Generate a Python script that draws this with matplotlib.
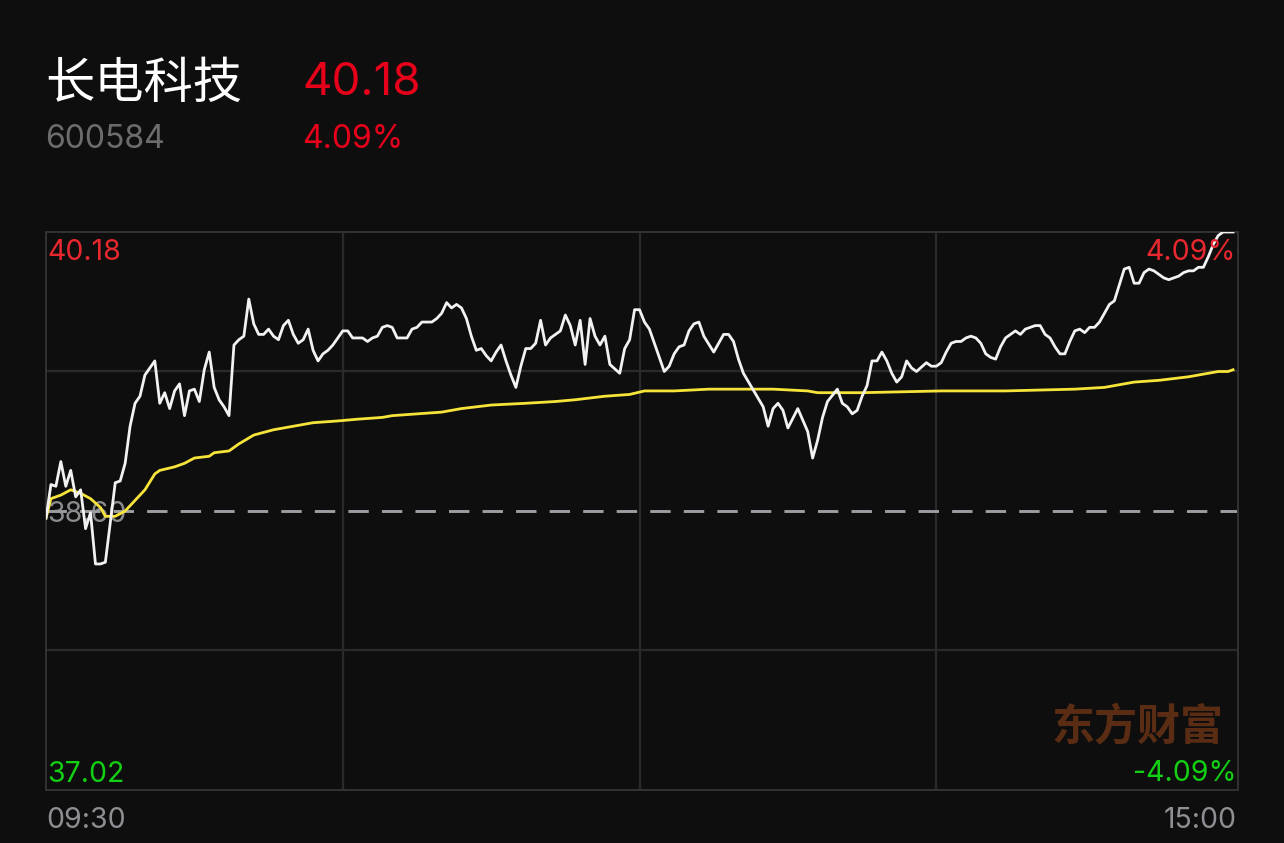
import numpy as np
import matplotlib
matplotlib.use("Agg")
import matplotlib.pyplot as plt

plt.rcParams['font.family'] = ['Inter', 'Liberation Sans', 'Noto Sans CJK SC', 'DejaVu Sans']

# stock info
name = "长电科技"
code = "600584"
last_price = 40.18
pre_close = 38.60
change_pct = 4.09
y_high = 40.18
y_low = 37.02
time_labels = ["09:30", "15:00"]

# minute price (minute index from 09:30, price)
price_min = [0, 1, 2, 3, 4, 5, 6, 7, 8, 9, 10, 11, 12, 14, 15, 16, 17, 18, 19, 20,
             22, 23, 24, 25, 26, 27, 28, 29, 30, 31, 32, 33, 34, 35, 36, 37, 38, 39, 40, 41,
             42, 43, 44, 45, 46, 47, 48, 49, 50, 51, 52, 53, 54, 55, 56, 57, 58, 59, 60, 61,
             62, 64, 65, 66, 67, 68, 69, 70, 71, 73, 74, 75, 76, 78, 79, 80, 81, 82, 83, 84,
             85, 86, 87, 88, 89, 90, 91, 92, 93, 94, 95, 96, 97, 98, 99, 100, 101, 102, 104, 105,
             106, 107, 108, 109, 110, 111, 112, 113, 114, 116, 117, 118, 119, 120, 121, 122, 125, 126, 127, 128,
             129, 130, 131, 132, 133, 135, 137, 138, 139, 140, 141, 145, 146, 147, 148, 149, 150, 152, 154, 155,
             156, 157, 158, 160, 161, 162, 163, 164, 165, 166, 167, 168, 169, 170, 171, 172, 173, 174, 175, 176,
             178, 179, 180, 181, 182, 183, 184, 185, 186, 187, 188, 189, 190, 191, 192, 193, 194, 196, 197, 198,
             199, 200, 201, 202, 203, 204, 205, 206, 207, 208, 209, 210, 211, 212, 213, 214, 215, 216, 217, 218,
             219, 220, 221, 222, 223, 224, 225, 226, 227, 228, 229, 230, 231, 232, 233, 234, 235, 236, 237, 238,
             240]
price_val = [38.56, 38.75, 38.74, 38.88, 38.74, 38.83, 38.68, 38.72, 38.50, 38.59, 38.30, 38.30, 38.31, 38.76, 38.77, 38.87, 39.08, 39.21, 39.25, 39.37,
             39.45, 39.21, 39.27, 39.18, 39.28, 39.32, 39.14, 39.28, 39.29, 39.22, 39.40, 39.50, 39.30, 39.23, 39.19, 39.14, 39.54, 39.57, 39.59, 39.80,
             39.66, 39.60, 39.60, 39.63, 39.59, 39.57, 39.65, 39.68, 39.60, 39.55, 39.57, 39.63, 39.51, 39.45, 39.49, 39.51, 39.54, 39.58, 39.62, 39.62,
             39.58, 39.58, 39.56, 39.58, 39.59, 39.64, 39.65, 39.64, 39.58, 39.58, 39.63, 39.64, 39.67, 39.67, 39.69, 39.72, 39.78, 39.75, 39.77, 39.75,
             39.69, 39.59, 39.51, 39.52, 39.48, 39.45, 39.50, 39.54, 39.45, 39.37, 39.30, 39.42, 39.52, 39.52, 39.55, 39.68, 39.54, 39.58, 39.62, 39.71,
             39.65, 39.54, 39.68, 39.43, 39.69, 39.59, 39.54, 39.59, 39.43, 39.38, 39.52, 39.57, 39.74, 39.74, 39.67, 39.63, 39.39, 39.42, 39.49, 39.53,
             39.54, 39.62, 39.66, 39.67, 39.59, 39.50, 39.60, 39.60, 39.56, 39.46, 39.38, 39.19, 39.08, 39.18, 39.21, 39.17, 39.07, 39.18, 39.05, 38.90,
             39.00, 39.13, 39.22, 39.29, 39.21, 39.19, 39.15, 39.17, 39.25, 39.31, 39.45, 39.45, 39.50, 39.45, 39.38, 39.33, 39.36, 39.45, 39.41, 39.39,
             39.44, 39.42, 39.42, 39.44, 39.50, 39.55, 39.56, 39.56, 39.58, 39.59, 39.58, 39.55, 39.49, 39.47, 39.46, 39.53, 39.58, 39.62, 39.60, 39.63,
             39.64, 39.65, 39.65, 39.60, 39.58, 39.53, 39.49, 39.49, 39.56, 39.62, 39.63, 39.61, 39.64, 39.64, 39.67, 39.72, 39.77, 39.79, 39.88, 39.97,
             39.98, 39.89, 39.89, 39.95, 39.97, 39.96, 39.94, 39.92, 39.91, 39.92, 39.93, 39.95, 39.96, 39.96, 39.98, 39.98, 40.04, 40.11, 40.16, 40.18,
             40.18]

# average price line
avg_min = [0, 1, 3, 5, 6, 7, 9, 11, 12, 14, 16, 18, 20, 22, 23, 26, 28, 30, 33, 34,
           37, 39, 42, 46, 50, 54, 59, 63, 68, 70, 75, 80, 84, 87, 90, 97, 103, 107, 110, 113,
           118, 121, 127, 134, 140, 146, 147, 154, 156, 165, 181, 194, 208, 214, 220, 225, 231, 235, 237, 239,
           240]
avg_val = [38.56, 38.67, 38.69, 38.72, 38.71, 38.70, 38.67, 38.62, 38.57, 38.57, 38.60, 38.66, 38.72, 38.81, 38.83, 38.85, 38.87, 38.90, 38.91, 38.93,
           38.94, 38.98, 39.03, 39.06, 39.08, 39.10, 39.11, 39.12, 39.13, 39.14, 39.15, 39.16, 39.18, 39.19, 39.20, 39.21, 39.22, 39.23, 39.24, 39.25,
           39.26, 39.28, 39.28, 39.29, 39.29, 39.29, 39.29, 39.28, 39.27, 39.27, 39.28, 39.28, 39.29, 39.30, 39.33, 39.34, 39.36, 39.38, 39.39, 39.39,
           39.40]

W, H = 1284, 843
bg = '#0e0e0e'
red = '#e8282e'
green = '#12d012'
grey = '#8e8e93'

fig = plt.figure(figsize=(W / 100, H / 100), dpi=100, facecolor=bg)
ax = fig.add_axes([46 / W, 1 - 790 / H, 1192 / W, 558 / H], facecolor=bg)


def fx(x):
    return x / W


def fy(y):
    return 1 - y / H


ax.set_xlim(0, 241)
ax.set_ylim(y_low, y_high)
ax.set_xticks([])
ax.set_yticks([])
for s in ax.spines.values():
    s.set_color('#333333')
    s.set_linewidth(1.4)

grid_c = '#2a2a2a'
for m in [60, 120, 180]:
    ax.axvline(m, color=grid_c, lw=1.6, zorder=1)
q = (y_high - pre_close) / 2
for v in [pre_close + q, pre_close - q]:
    ax.axhline(v, color=grid_c, lw=1.6, zorder=1)
ax.axhline(pre_close, color='#9d9da2', lw=2.1, dashes=(7, 4.5), zorder=2)

ax.plot(avg_min, avg_val, color='#f7e43a', lw=2.0, zorder=4)
ax.plot(price_min, price_val, color='#f2f2f2', lw=2.0, zorder=5)

# axis labels inside plot
fs = 20.5
ax.text(0.001, 1 - 28 / 558, f"{y_high:.2f}", transform=ax.transAxes, color=red,
        fontsize=fs, ha='left', va='baseline', zorder=6)
ax.text(0.9985, 1 - 28 / 558, f"{change_pct:.2f}%", transform=ax.transAxes, color=red,
        fontsize=fs, ha='right', va='baseline', zorder=6)
ax.text(0.001, 1 - 290.5 / 558, f"{pre_close:.2f}", transform=ax.transAxes, color='#9a9a9e',
        fontsize=fs, ha='left', va='baseline', zorder=3, alpha=0.9)
ax.text(0.001, 1 - 550 / 558, f"{y_low:.2f}", transform=ax.transAxes, color=green,
        fontsize=fs, ha='left', va='baseline', zorder=6)
ax.text(0.9985, 1 - 549 / 558, f"-{change_pct:.2f}%", transform=ax.transAxes, color=green,
        fontsize=fs, ha='right', va='baseline', zorder=6)

# watermark
ax.text(1224 / 1192 - 46 / 1192, 1 - (740 - 232) / 558, "东方财富", transform=ax.transAxes,
        color='#5a2c13', fontsize=31, fontweight='bold', family=['Noto Sans CJK SC'],
        ha='right', va='baseline', zorder=3)

# time labels
fig.text(fx(46), fy(828), time_labels[0], color=grey, fontsize=fs, ha='left', va='baseline')
fig.text(fx(1237), fy(828), time_labels[1], color=grey, fontsize=fs, ha='right', va='baseline')

# header
fig.text(fx(45), fy(98), name, color='white', fontsize=35.5, family=['Noto Sans CJK SC'],
         ha='left', va='baseline')
fig.text(fx(302), fy(95), f"{last_price:.2f}", color='#e6001a', fontsize=33,
         ha='left', va='baseline')
fig.text(fx(45), fy(148), code, color='#6c6c6c', fontsize=23,
         ha='left', va='baseline')
fig.text(fx(302), fy(148), f"{change_pct:.2f}%", color='#e6001a', fontsize=23,
         ha='left', va='baseline')

fig.savefig("out.png", dpi=100, facecolor=bg)
